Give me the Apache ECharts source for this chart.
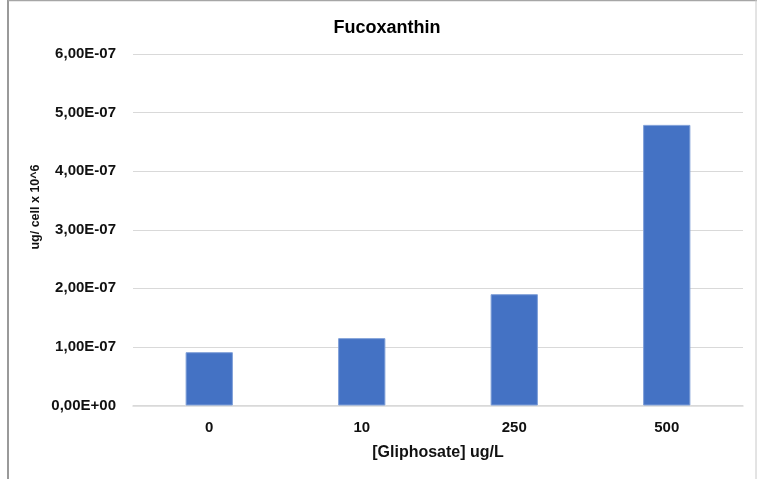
<!DOCTYPE html>
<html>
<head>
<meta charset="utf-8">
<script src="https://cdn.jsdelivr.net/npm/echarts@6/dist/echarts.min.js"></script>
<style>html,body{margin:0;padding:0;background:#fff;}#c{width:757px;height:479px;}</style>
</head>
<body>
<div id="c"></div>
<script>
var categories = ['0', '10', '250', '500'];
var values = [9.1e-8, 1.15e-7, 1.9e-7, 4.79e-7];
var yTicks = [0, 1e-7, 2e-7, 3e-7, 4e-7, 5e-7, 6e-7];
var titleText = 'Fucoxanthin';
var xName = '[Gliphosate] ug/L';
var yName = 'ug/ cell x 10^6';

function fmt(v) {
  if (Math.abs(v) < 1e-20) return '0,00E+00';
  var s = v.toExponential(2);
  var parts = s.split('e');
  var m = parts[0].replace('.', ',');
  var e = parseInt(parts[1], 10);
  var sign = e < 0 ? '-' : '+';
  var a = Math.abs(e);
  return m + 'E' + sign + (a < 10 ? '0' + a : a);
}

var font = 'Liberation Sans, Arial, sans-serif';
var chart = echarts.init(document.getElementById('c'), null, {renderer: 'canvas'});
chart.setOption({
  animation: false,
  backgroundColor: '#ffffff',
  title: {
    text: titleText, left: 382, textAlign: 'center', top: 14,
    textStyle: {fontFamily: font, fontSize: 18, fontWeight: 'bold', color: '#000'}
  },
  grid: {left: 133, right: 14, top: 54, bottom: 73.5, containLabel: false},
  xAxis: {
    type: 'category', data: categories,
    name: xName, nameLocation: 'middle', nameGap: 39,
    nameTextStyle: {fontFamily: font, fontSize: 16, fontWeight: 'bold', color: '#111'},
    axisLine: {show: true, lineStyle: {color: '#d9d9d9', width: 1.5}},
    axisTick: {show: false},
    axisLabel: {fontFamily: font, fontSize: 15, fontWeight: 'bold', color: '#111', margin: 15}
  },
  yAxis: {
    type: 'value', min: yTicks[0], max: yTicks[yTicks.length - 1], interval: 1e-7,
    axisLine: {show: false}, axisTick: {show: false},
    axisLabel: {fontFamily: font, fontSize: 15, fontWeight: 'bold', color: '#111', margin: 17, formatter: fmt},
    splitLine: {lineStyle: {color: '#d9d9d9', width: 1}}
  },
  series: [{
    type: 'bar', data: values, barWidth: '31%',
    itemStyle: {color: '#4472C4', borderColor: '#7f9fd8', borderWidth: 1}
  }],
  graphic: [
    {type: 'line', shape: {x1: 8, y1: 0, x2: 8, y2: 479}, style: {stroke: '#9a9a9a', lineWidth: 2}, silent: true},
    {type: 'line', shape: {x1: 8, y1: 0.5, x2: 757, y2: 0.5}, style: {stroke: '#a6a6a6', lineWidth: 1.5}, silent: true},
    {type: 'line', shape: {x1: 756, y1: 0, x2: 756, y2: 479}, style: {stroke: '#c8c8c8', lineWidth: 1}, silent: true},
    {type: 'text', x: 36, y: 207, rotation: Math.PI / 2, silent: true,
     style: {text: yName, fontFamily: font, fontSize: 12.5, fontWeight: 'bold', fill: '#111', align: 'center', verticalAlign: 'middle'}}
  ]
});
</script>
</body>
</html>
